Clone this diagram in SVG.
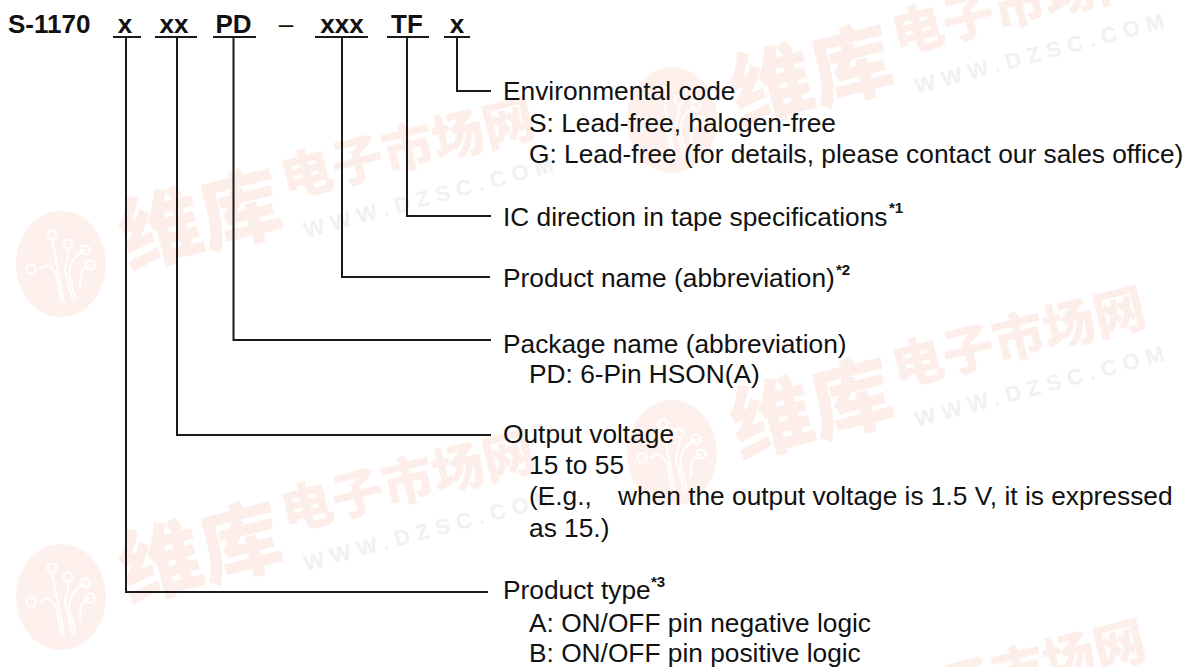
<svg xmlns="http://www.w3.org/2000/svg" width="1185" height="667" viewBox="0 0 1185 667">
<style>
text{font-family:"Liberation Sans",Arial,sans-serif;fill:#111}
.t{font-size:26.300px}
.h{font-size:26px;font-weight:bold}
.s{font-size:15px;font-weight:bold}
.c{fill:none;stroke:#1a1a1a;stroke-width:2}
.wm{font-family:"Noto Sans CJK SC",sans-serif;font-weight:900;fill:#fdeee9}
.wu{font-family:"Liberation Sans",sans-serif;font-weight:bold;fill:#f0f1f1;font-size:22px;letter-spacing:6.600px}
.tr{fill:none;stroke:#fff;stroke-width:2}
</style>
<defs>
<g id="mark">
<ellipse cx="0" cy="0" rx="45" ry="53" fill="#fef1ed"/>
<path class="tr" d="M-9-25L3 38M7-17C10-5 1 0 5 10L12 38M25-14C10-8 7 5 9 15L15 36M29 1C20 4 19 10 19 24M-22 5C-10-3-8 6-5 10L0 38"/>
<circle class="tr" cx="-9" cy="-29" r="4.500"/><circle class="tr" cx="7" cy="-20" r="4.500"/><circle class="tr" cx="24" cy="-14" r="4.500"/><circle class="tr" cx="29" cy="1" r="4.500"/><circle class="tr" cx="-30" cy="5" r="4.500"/>
<text class="wm" transform="translate(67,4) rotate(-14)" font-size="82" style="font-family:'Noto Sans CJK SC',sans-serif">维库</text>
<text class="wm" transform="translate(225,-66) rotate(-14)" font-size="52" style="font-family:'Noto Sans CJK SC',sans-serif">电子市场网</text>
<text class="wu" transform="translate(245,-26) rotate(-15)" style="font-family:'Liberation Sans',sans-serif">WWW.DZSC.COM</text>
</g>
</defs>
<rect width="1185" height="667" fill="#fff"/>
<g id="watermark">
<use href="#mark" x="61" y="264"/>
<use href="#mark" x="61" y="597"/>
<use href="#mark" x="672" y="120"/>
<use href="#mark" x="672" y="453"/>
<use href="#mark" x="672" y="786"/>
</g>
<g id="connectors">
<path class="c" d="M457 37V91H491"/>
<path class="c" d="M407 37V216H491"/>
<path class="c" d="M342 37V277H490"/>
<path class="c" d="M233.500 37V340H491"/>
<path class="c" d="M177 37V435H491"/>
<path class="c" d="M126 37V592H488"/>
</g>
<g id="code">
<text class="h" x="8" y="33">S-1170</text>
<text class="h" x="125" y="33" text-anchor="middle">x</text>
<text class="h" x="174" y="33" text-anchor="middle">xx</text>
<text class="h" x="233.500" y="33" text-anchor="middle">PD</text>
<text class="h" x="286" y="33" text-anchor="middle" style="font-weight:normal">–</text>
<text class="h" x="342" y="33" text-anchor="middle">xxx</text>
<text class="h" x="407" y="33" text-anchor="middle">TF</text>
<text class="h" x="457" y="33" text-anchor="middle">x</text>
<path class="c" d="M113 37H141M155 37H197M213 37H256M315 37H368M387 37H429M444 37H470"/>
</g>
<g id="env"><text class="t" x="503" y="100">Environmental code</text><text class="t" x="529" y="132">S: Lead-free, halogen-free</text><text class="t" x="529" y="163">G: Lead-free (for details, please contact our sales office)</text></g>
<g id="ic"><text class="t" x="503" y="226">IC direction in tape specifications</text><text class="s" x="889" y="213">*1</text></g>
<g id="product"><text class="t" x="503" y="287">Product name (abbreviation)</text><text class="s" x="836" y="275">*2</text></g>
<g id="package"><text class="t" x="503" y="353">Package name (abbreviation)</text><text class="t" x="529" y="383">PD: 6-Pin HSON(A)</text></g>
<g id="voltage"><text class="t" x="503" y="443">Output voltage</text><text class="t" x="529" y="474">15 to 55</text><text class="t" x="529" y="505">(E.g.,</text><text class="t" x="618" y="505">when the output voltage is 1.5 V, it is expressed</text><text class="t" x="529" y="537">as 15.)</text></g>
<g id="type"><text class="t" x="503" y="599">Product type</text><text class="s" x="651" y="587">*3</text><text class="t" x="529" y="632">A: ON/OFF pin negative logic</text><text class="t" x="529" y="662">B: ON/OFF pin positive logic</text></g>
</svg>
